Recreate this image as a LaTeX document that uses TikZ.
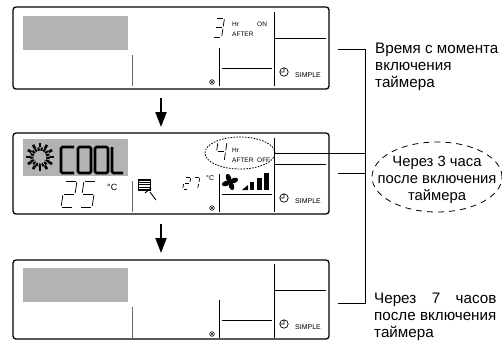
\documentclass[tikz,border=0pt]{standalone}
\usepackage{fontspec}
\setmainfont{Liberation Sans}
\usetikzlibrary{shapes.geometric,arrows.meta}
\definecolor{lcdgray}{RGB}{179,179,179}
\definecolor{dimline}{RGB}{105,105,105}

\tikzset{
  panelbox/.style={line width=1.3pt, rounded corners=3pt},
  pline/.style={line width=0.9pt},
  seg/.style={line width=0.75pt},
  ptxt/.style={font=\fontsize{6.5}{7}\selectfont, inner sep=0pt},
  stxt/.style={font=\fontsize{7}{8}\selectfont, inner sep=0pt},
  lbl/.style={font=\fontsize{15.2}{17}\selectfont, align=left, inner sep=0pt},
  bigarrow/.style={line width=2.2pt, -{Triangle[length=15pt,width=11pt]}},
  conn/.style={line width=0.8pt},
  coolseg/.style={line width=2.8pt, rounded corners=1.5pt},
}

\newcommand\segA{\draw[seg] ({\G},0) -- ({\W-\G},0);}
\newcommand\segB{\draw[seg] (\W,{\G}) -- (\W,{\H/2-\G});}
\newcommand\segC{\draw[seg] (\W,{\H/2+\G}) -- (\W,{\H-\G});}
\newcommand\segD{\draw[seg] ({\G},\H) -- ({\W-\G},\H);}
\newcommand\segE{\draw[seg] (0,{\H/2+\G}) -- (0,{\H-\G});}
\newcommand\segF{\draw[seg] (0,{\G}) -- (0,{\H/2-\G});}
\newcommand\segM{\draw[seg] ({\G},{\H/2}) -- ({\W-\G},{\H/2});}
\newcommand\segdigit[6]{%
  \begin{scope}[shift={(#1,#2)}, xslant=#5]
    \def\W{#3}\def\H{#4}\def\G{1.2}%
    \foreach \s in {#6}{\csname seg\s\endcsname}
  \end{scope}}

\newcommand\lcdpanel[4]{%
  \begin{scope}[shift={(0,#1)}]
    \draw[panelbox] (13,#3) rectangle (329,#4);
    \fill[lcdgray] (23,16) rectangle (128,50);
    \draw[pline, dimline] (132,55) -- (132,86);
    \draw[pline] (219,48) -- (219,86);
    \draw[pline] (222,68) -- (272,68);
    \draw[pline] (274,12) -- (274,86);
    \draw[pline] (275,38) -- (326,38);
    \draw[line width=0.7pt] (284,72) circle (4.2) (284,72) -- (284,68.3) (284,72) -- (280.8,72);
    \node[stxt, anchor=west] (#2simple) at (295,75) {SIMPLE};
    \draw[line width=0.6pt] (212,82) circle (2.3);
    \fill (212,82) circle (1.1);
  \end{scope}}

\begin{document}
\begin{tikzpicture}[x=1pt,y=-1pt]
\useasboundingbox (0,0) rectangle (502,341);

% ---------- panel 1 ----------
\lcdpanel{0}{pa}{7}{89}
\segdigit{216}{18}{8.5}{19}{0.15}{A,B,M,C,D}
\node[ptxt, anchor=west] (paHr) at (232,24) {Hr};
\node[ptxt, anchor=west] (paOn) at (257,24) {ON};
\node[ptxt, anchor=west] (paAfter) at (232,34) {AFTER};

% ---------- panel 2 ----------
\lcdpanel{126}{pb}{7}{88}
\fill[lcdgray] (23,139) rectangle (128,176);
% sun icon
\draw[line width=3.4pt, dash pattern=on 2pt off 1pt] (40,157) circle (8.2);
\foreach \a in {0,30,...,330}{\draw[line width=2.6pt] (40,157) ++(\a:10) -- ++(\a:4);}
% COOL
\draw[coolseg] (74,147) -- (61,147) -- (61,173) -- (74,173);
\draw[coolseg] (78,147) rectangle (91,173);
\draw[coolseg] (95,147) rectangle (108,173);
\draw[coolseg] (112,147) -- (112,173) -- (123,173);
% set temperature
\segdigit{65}{181}{12}{26}{0.15}{A,B,M,E,D}
\segdigit{84}{181}{12}{26}{0.15}{A,F,M,C,D}
\node[font=\fontsize{9}{10}\selectfont, inner sep=0pt, anchor=west] (pbC1) at (107,187) {°C};
% louver icon
\foreach \yy in {0,2.4,...,9.6}{\draw[line width=1.1pt] (138,180+\yy) -- (150,180+\yy);}
\draw[line width=0.7pt] (138,179.5) rectangle (150,190);
\draw[line width=0.9pt] (145,193) -- (151,188);
\draw[line width=0.9pt] (150,192) -- (156,200);
% room temperature
\segdigit{185}{177}{6}{12}{0.2}{A,B,M,E,D}
\segdigit{194}{177}{6}{12}{0.2}{A,B,C}
\node[font=\fontsize{7}{8}\selectfont, inner sep=0pt, anchor=west] (pbC2) at (206,178) {°C};
% fan
\foreach \a in {20,110,200,290}{\fill[shift={(230,182)}, rotate=\a] (4.2,0) ellipse (4.4 and 2.6);}
\fill (230,182) circle (1.6);
% bars
\fill (242,190) -- (248,190) -- (248,185) -- cycle;
\fill (250,182) rectangle (254,190);
\fill (257,177.5) rectangle (261.5,190);
\fill (264,173) rectangle (268.5,190);
% timer
\segdigit{218}{142}{9}{19}{0.15}{F,M,B,C}
\node[ptxt, anchor=west] (pbHr) at (232,150) {Hr};
\node[ptxt, anchor=west] (pbAfter) at (232,160) {AFTER};
\node[ptxt, anchor=west] (pbOff) at (257,160) {OFF};
\node[draw, ellipse, dash pattern=on 1.6pt off 1.3pt, line width=0.8pt,
      minimum width=70pt, minimum height=32pt, inner sep=0pt] (e4) at (240,153) {};

% ---------- panel 3 ----------
\lcdpanel{252}{pc}{8}{87}

% ---------- arrows between panels ----------
\coordinate (a1s) at (161,98);  \coordinate (a1e) at (161,127);
\coordinate (a2s) at (161,224); \coordinate (a2e) at (161,253);
\draw[bigarrow] (a1s) -- (a1e);
\draw[bigarrow] (a2s) -- (a2e);

% ---------- bracket ----------
\coordinate (s1) at (338,49);
\coordinate (bt) at (365,49);
\coordinate (s2) at (338,173);
\coordinate (m2) at (365,173);
\coordinate (s3) at (338,303);
\coordinate (bb) at (365,303);
\draw[conn] (s1) -- (bt) -- (bb) -- (s3);
\draw[conn] (s2) -- (m2);
\draw[conn] (e4.east) -- (e4.east -| bt);

% ---------- labels ----------
\node[lbl, anchor=north west] (t1) at (375,43) {Время с момента\\включения\\таймера};
\node[draw, ellipse, dash pattern=on 6pt off 5pt, line width=0.8pt,
      minimum width=130pt, minimum height=70pt, inner sep=0pt] (e2) at (437,177) {};
\node[lbl, align=center, font=\fontsize{14.8}{17}\selectfont] (t2) at (437,180) {Через 3 часа\\после включения\\таймера};
\node[lbl, anchor=north west] (t3) at (374,293) {\setbox0\hbox{после включения}\makebox[\wd0][s]{Через 7 часов}\\после включения\\таймера};
\end{tikzpicture}
\end{document}
